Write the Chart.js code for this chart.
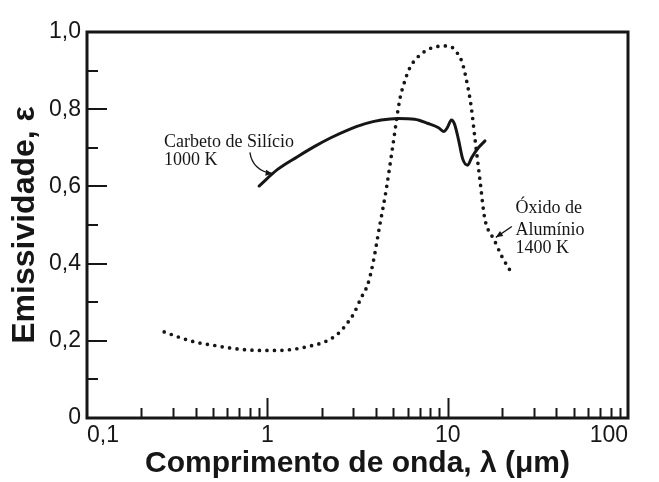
<!DOCTYPE html>
<html>
<head>
<meta charset="utf-8">
<script src="https://cdn.jsdelivr.net/npm/chart.js@4.4.0/dist/chart.umd.min.js"></script>
<style>
  body { margin: 0; background: #fff; }
  canvas { display: block; }
</style>
</head>
<body>
<canvas id="emis" width="659" height="482"></canvas>
<script>
// aluminium oxide at 1400 K (dotted curve): wavelength in um, emissivity
const aluminaLambda = [0.268, 0.33, 0.404, 0.494, 0.606, 0.744, 0.917, 1.13, 1.39, 1.71, 2.10, 2.50, 2.85,
  3.02, 3.31, 3.61, 3.85, 4.19, 4.56, 4.97, 5.42, 5.73, 6.15, 6.79, 7.79, 8.66, 9.55, 10.6, 11.4, 12.0,
  12.6, 13.5, 14.2, 15.1, 16.0, 16.8, 17.9, 20.0, 22.6];
const aluminaEps = [0.223, 0.208, 0.196, 0.189, 0.182, 0.177, 0.175, 0.175, 0.178, 0.186, 0.198, 0.221, 0.253,
  0.271, 0.311, 0.347, 0.400, 0.496, 0.591, 0.707, 0.824, 0.867, 0.906, 0.934, 0.955, 0.962, 0.964, 0.960, 0.943, 0.923,
  0.884, 0.807, 0.720, 0.617, 0.521, 0.487, 0.466, 0.418, 0.376];

// silicon carbide at 1000 K (solid curve)
const carbideLambda = [0.90, 1.14, 1.47, 1.82, 2.25, 2.79, 3.46, 4.28, 5.30, 6.56, 7.79, 8.9, 9.55, 9.95,
  10.5, 10.9, 11.5, 12.1, 12.9, 13.6, 14.8, 16.1];
const carbideEps = [0.601, 0.644, 0.677, 0.703, 0.726, 0.746, 0.762, 0.772, 0.776, 0.774, 0.763, 0.752, 0.742, 0.752,
  0.772, 0.762, 0.720, 0.672, 0.655, 0.675, 0.700, 0.718];

const xTickValues = [0.1, 1, 10, 100];
const xTickLabels = ["0,1", "1", "10", "100"];
const yTickValues = [0, 0.2, 0.4, 0.6, 0.8, 1.0];
const yTickLabels = ["0", "0,2", "0,4", "0,6", "0,8", "1,0"];

const ink = "#161616";
const sansFont = "'Liberation Sans', Arial, sans-serif";
const noteFont = "'Liberation Serif', 'Times New Roman', serif";

function toPoints(xs, ys){
    return xs.map((x, i) => ({x: x, y: ys[i]}));
}

// box around the plot plus the inward tick marks
const frameTicks = {
    id: "frameTicks",
    afterDraw(chart){
        const ctx = chart.ctx;
        const a = chart.chartArea;
        const sx = chart.scales.x, sy = chart.scales.y;
        ctx.save();
        ctx.strokeStyle = ink;
        ctx.lineWidth = 2;
        [0.1, 1, 10].forEach(d => {
            for(let m = 1; m < 10; m++){
                if(d == 0.1 && m == 1) continue;
                const px = Math.round(sx.getPixelForValue(d * m)) + 0.5;
                const len = m == 1 ? 20 : 10;
                ctx.beginPath();
                ctx.moveTo(px, a.bottom);
                ctx.lineTo(px, a.bottom - len);
                ctx.stroke();
            }
        });
        for(let k = 1; k < 10; k++){
            const py = Math.round(sy.getPixelForValue(k / 10));
            const len = k % 2 == 0 ? 20 : 11;
            ctx.beginPath();
            ctx.moveTo(a.left, py);
            ctx.lineTo(a.left + len, py);
            ctx.stroke();
        }
        ctx.lineWidth = 3;
        ctx.strokeRect(a.left, a.top, a.right - a.left, a.bottom - a.top);
        ctx.restore();
    }
};

function arrowHead(ctx, fromX, fromY, toX, toY){
    const ang = Math.atan2(toY - fromY, toX - fromX);
    const len = 7, half = 3;
    ctx.beginPath();
    ctx.moveTo(toX, toY);
    ctx.lineTo(toX - len * Math.cos(ang) + half * Math.sin(ang), toY - len * Math.sin(ang) - half * Math.cos(ang));
    ctx.lineTo(toX - len * Math.cos(ang) - half * Math.sin(ang), toY - len * Math.sin(ang) + half * Math.cos(ang));
    ctx.closePath();
    ctx.fill();
}

// curve names with their pointer arrows, placed in data coordinates
const curveNotes = {
    id: "curveNotes",
    afterDatasetsDraw(chart){
        const ctx = chart.ctx;
        const sx = chart.scales.x, sy = chart.scales.y;
        const X = v => sx.getPixelForValue(v), Y = v => sy.getPixelForValue(v);
        ctx.save();
        ctx.fillStyle = ink;
        ctx.strokeStyle = ink;
        ctx.font = "18px " + noteFont;
        ctx.textBaseline = "alphabetic";
        ctx.textAlign = "left";

        ctx.fillText("Carbeto de Silício", X(0.267), Y(0.703));
        ctx.fillText("1000 K", X(0.267), Y(0.655));
        ctx.fillText("Óxido de", X(23.8), Y(0.530));
        ctx.fillText("Alumínio", X(23.8), Y(0.474));
        ctx.fillText("1400 K", X(23.8), Y(0.428));

        ctx.lineWidth = 1.3;
        // silicon carbide pointer, bent
        const c0 = [X(0.80), Y(0.688)], c1 = [X(0.83), Y(0.640)], c2 = [X(1.07), Y(0.633)];
        ctx.beginPath();
        ctx.moveTo(c0[0], c0[1]);
        ctx.quadraticCurveTo(c1[0], c1[1], c2[0], c2[1]);
        ctx.stroke();
        arrowHead(ctx, c1[0], c1[1], c2[0], c2[1]);

        // aluminium oxide pointer, straight
        const a0 = [X(22.7), Y(0.496)], a1 = [X(18.5), Y(0.468)];
        ctx.beginPath();
        ctx.moveTo(a0[0], a0[1]);
        ctx.lineTo(a1[0], a1[1]);
        ctx.stroke();
        arrowHead(ctx, a0[0], a0[1], a1[0], a1[1]);
        ctx.restore();
    }
};

new Chart(document.getElementById("emis"), {
    type: "line",
    data: {
        datasets: [{
            label: "Óxido de Alumínio 1400 K",
            data: toPoints(aluminaLambda, aluminaEps),
            borderColor: ink,
            borderWidth: 3.7,
            borderDash: [0, 7.5],
            borderCapStyle: "round",
            cubicInterpolationMode: "monotone",
            pointRadius: 0,
            fill: false
        }, {
            label: "Carbeto de Silício 1000 K",
            data: toPoints(carbideLambda, carbideEps),
            borderColor: ink,
            borderWidth: 3,
            borderCapStyle: "round",
            cubicInterpolationMode: "monotone",
            pointRadius: 0,
            fill: false
        }]
    },
    options: {
        responsive: false,
        animation: false,
        devicePixelRatio: 1,
        layout: { padding: { top: 32, right: 31, left: 0, bottom: 0 } },
        plugins: {
            legend: { display: false },
            tooltip: { enabled: false }
        },
        scales: {
            x: {
                type: "logarithmic",
                min: 0.1,
                max: 100,
                afterBuildTicks: s => { s.ticks = xTickValues.map(v => ({value: v})); },
                afterFit: s => { s.height = 64; },
                grid: { display: false, drawTicks: false },
                border: { display: false },
                ticks: {
                    autoSkip: false,
                    maxRotation: 0,
                    align: "inner",
                    padding: 4,
                    color: ink,
                    font: { family: sansFont, size: 23 },
                    callback: (v, i) => xTickLabels[i]
                },
                title: {
                    display: true,
                    text: "Comprimento de onda, λ (μm)",
                    color: ink,
                    padding: { top: 0, bottom: 0 },
                    font: { family: sansFont, size: 30, weight: "bold" }
                }
            },
            y: {
                min: 0,
                max: 1,
                afterBuildTicks: s => { s.ticks = yTickValues.map(v => ({value: v})); },
                afterFit: s => { s.width = 87; },
                grid: { display: false, drawTicks: false },
                border: { display: false },
                ticks: {
                    autoSkip: false,
                    padding: 6,
                    color: ink,
                    font: { family: sansFont, size: 23 },
                    callback: (v, i) => yTickLabels[i]
                },
                title: {
                    display: true,
                    text: "Emissividade, ε",
                    color: ink,
                    padding: { top: 6, bottom: 0 },
                    font: { family: sansFont, size: 32, weight: "bold" }
                }
            }
        }
    },
    plugins: [frameTicks, curveNotes]
});
</script>
</body>
</html>
